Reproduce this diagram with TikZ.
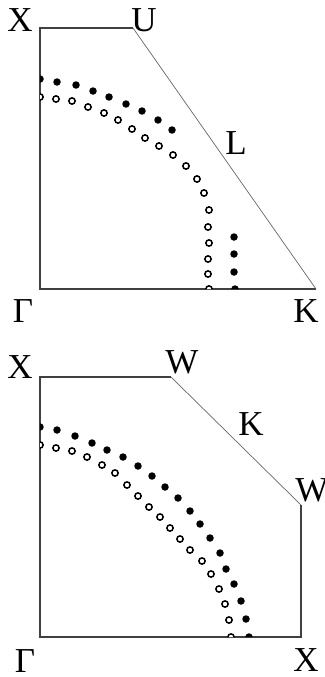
\documentclass[tikz,border=0pt]{standalone}
\usepackage{fontspec}
\setmainfont{Liberation Serif}
\begin{document}
\begin{tikzpicture}[x=1pt,y=-1pt,
  frame/.style={draw=black!75,line width=1.1pt},
  diag/.style={draw=black!60,line width=0.7pt},
  lbl/.style={inner sep=0pt,font=\fontsize{35}{35}\selectfont},
  fdot/.style={circle,fill=black,inner sep=0pt,minimum size=7.5pt},
  odot/.style={circle,draw=black,line width=1.5pt,fill=white,inner sep=0pt,minimum size=6.3pt}]
\useasboundingbox (0,0) rectangle (324,677);
% ---------- top panel ----------
\coordinate (tX) at (40,28);
\coordinate (tU) at (133,28);
\coordinate (tK) at (316,289);
\coordinate (tG) at (40,289);
\draw[frame] (tU) -- (tX) -- (tG) -- (tK);
\draw[diag] (tU) -- (tK);
\node[lbl] (lX1) at (20,20) {X};
\node[lbl] (lU) at (144,20) {U};
\node[lbl] (lL) at (236,143) {L};
\node[lbl] (lG1) at (23,311) {Γ};
\node[lbl] (lK1) at (306,311) {K};
\begin{scope}
\clip (tX) -- (tU) -- (tK) -- (tG) -- cycle;
\foreach \x/\y [count=\i] in {40/79,57/82,76/85,93/91,109/97,126/104,142/111,158/120,172/130,234/237,234/254,234/272,235/289}
  \node[fdot] (tf\i) at (\x,\y) {};
\foreach \x/\y [count=\i] in {40/97,56/99,72/101,88/107,104/113,118/120,132/129,145/138,159/146,173/155,186/166,197/179,204/193,209/210,208/227,209/243,208/259,208/274,209/289}
  \node[odot] (to\i) at (\x,\y) {};
\end{scope}
% ---------- bottom panel ----------
\coordinate (bX) at (40,377);
\coordinate (bW) at (171,377);
\coordinate (bW2) at (301,505);
\coordinate (bX2) at (301,637);
\coordinate (bG) at (40,637);
\draw[frame] (bW) -- (bX) -- (bG) -- (bX2) -- (bW2);
\draw[diag] (bW) -- (bW2);
\node[lbl] (lX2) at (20,367) {X};
\node[lbl] (lW1) at (182,362) {W};
\node[lbl] (lK2) at (251,424) {K};
\node[lbl] (lW2) at (312,490) {W};
\node[lbl] (lG2) at (25,661) {Γ};
\node[lbl] (lX3) at (306,660) {X};
\begin{scope}
\clip (bX) -- (bW) -- (bW2) -- (bX2) -- (bG) -- cycle;
\foreach \x/\y [count=\i] in {40/427,57/430,75/436,92/443,107/450,123/457,138/466,152/476,165/487,178/498,190/511,200/524,210/538,220/553,226/569,234/584,241/601,246/619,249/637}
  \node[fdot] (bf\i) at (\x,\y) {};
\foreach \x/\y [count=\i] in {40/445,56/448,72/451,87/457,102/465,115/473,127/485,138/496,149/507,160/517,170/528,180/539,190/550,202/561,211/574,219/589,225/604,229/620,231/637}
  \node[odot] (bo\i) at (\x,\y) {};
\end{scope}
\end{tikzpicture}
\end{document}
